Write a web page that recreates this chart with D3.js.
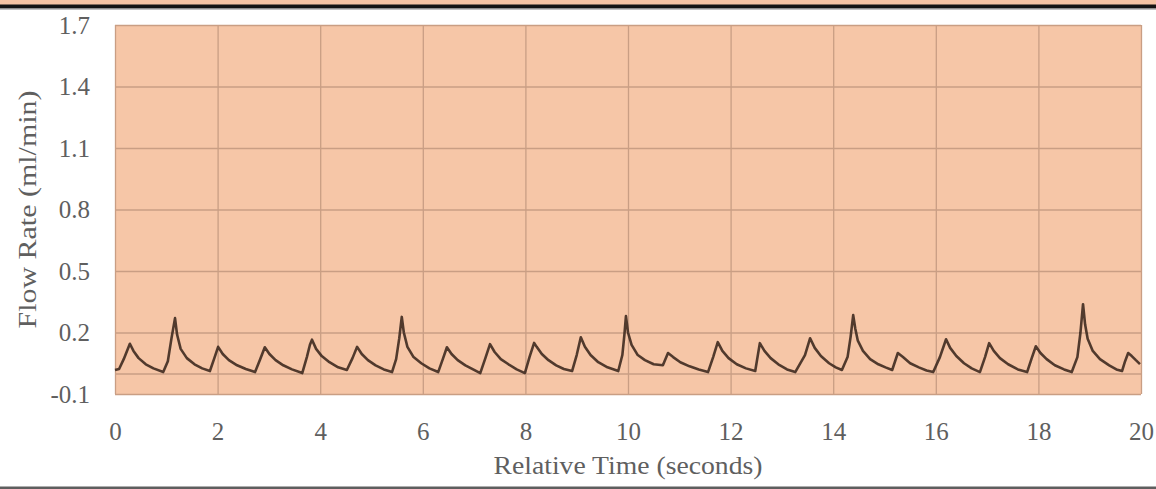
<!DOCTYPE html>
<html>
<head>
<meta charset="utf-8">
<script src="https://cdn.jsdelivr.net/npm/d3@7"></script>
<style>
  html, body { margin: 0; padding: 0; background: #ffffff; }
  svg { display: block; }
  text { font-family: "Liberation Serif", "Times New Roman", serif; }
</style>
</head>
<body>
<svg id="chart" width="1156" height="489"></svg>
<script>
// Flow rate trace (ml/min) against relative time (seconds)
const timeSec = [
  0.00, 0.08, 0.17, 0.29, 0.36, 0.46, 0.60, 0.75, 0.94,
  1.03, 1.10, 1.17, 1.21, 1.28, 1.40, 1.55, 1.70, 1.85,
  1.93, 2.01, 2.10, 2.22, 2.38, 2.55, 2.73,
  2.83, 2.92, 3.01, 3.13, 3.28, 3.45, 3.65,
  3.74, 3.80, 3.84, 3.92, 4.03, 4.18, 4.35, 4.52,
  4.63, 4.72, 4.81, 4.93, 5.08, 5.24, 5.40,
  5.48, 5.54, 5.59, 5.63, 5.70, 5.82, 5.97, 6.13, 6.30,
  6.39, 6.47, 6.56, 6.68, 6.83, 6.98, 7.12,
  7.22, 7.31, 7.40, 7.52, 7.67, 7.83, 7.99,
  8.08, 8.17, 8.22, 8.32, 8.45, 8.60, 8.75, 8.91,
  9.00, 9.08, 9.16, 9.27, 9.42, 9.60, 9.81,
  9.89, 9.93, 9.96, 10.00, 10.07, 10.19, 10.33, 10.50, 10.68,
  10.78, 10.88, 11.02, 11.20, 11.38, 11.56,
  11.66, 11.75, 11.84, 11.96, 12.12, 12.30, 12.48,
  12.57, 12.66, 12.78, 12.93, 13.10, 13.26,
  13.45, 13.55, 13.64, 13.76, 13.92, 14.05, 14.17,
  14.28, 14.34, 14.39, 14.43, 14.48, 14.58, 14.72, 14.88, 15.02, 15.15,
  15.26, 15.36, 15.50, 15.67, 15.82, 15.95,
  16.08, 16.20, 16.28, 16.40, 16.55, 16.70, 16.86,
  16.96, 17.04, 17.13, 17.25, 17.41, 17.60, 17.78,
  17.87, 17.95, 18.04, 18.16, 18.32, 18.50, 18.65,
  18.76, 18.82, 18.87, 18.91, 18.96, 19.06, 19.20, 19.38, 19.52, 19.63,
  19.69, 19.75, 19.82, 19.90, 19.98
];
const flowRate = [
  0.017, 0.022, 0.070, 0.145, 0.110, 0.075, 0.045, 0.025, 0.007,
  0.060, 0.170, 0.270, 0.190, 0.120, 0.075, 0.045, 0.025, 0.012,
  0.070, 0.130, 0.095, 0.065, 0.040, 0.022, 0.007,
  0.070, 0.128, 0.095, 0.065, 0.040, 0.020, 0.002,
  0.080, 0.140, 0.165, 0.120, 0.085, 0.055, 0.030, 0.017,
  0.075, 0.130, 0.095, 0.065, 0.040, 0.020, 0.007,
  0.070, 0.170, 0.276, 0.200, 0.130, 0.080, 0.050, 0.025, 0.007,
  0.070, 0.128, 0.095, 0.065, 0.040, 0.020, 0.002,
  0.075, 0.143, 0.105, 0.070, 0.045, 0.020, 0.002,
  0.080, 0.149, 0.130, 0.095, 0.065, 0.040, 0.022, 0.012,
  0.090, 0.177, 0.130, 0.090, 0.055, 0.030, 0.012,
  0.090, 0.190, 0.280, 0.200, 0.140, 0.090, 0.065, 0.045, 0.040,
  0.100, 0.080, 0.055, 0.035, 0.020, 0.007,
  0.080, 0.153, 0.110, 0.075, 0.045, 0.025, 0.012,
  0.148, 0.110, 0.075, 0.045, 0.020, 0.007,
  0.090, 0.172, 0.125, 0.085, 0.050, 0.030, 0.017,
  0.080, 0.180, 0.285, 0.220, 0.160, 0.110, 0.070, 0.045, 0.030, 0.017,
  0.100, 0.080, 0.050, 0.030, 0.015, 0.007,
  0.080, 0.167, 0.125, 0.085, 0.050, 0.025, 0.007,
  0.080, 0.148, 0.110, 0.075, 0.045, 0.020, 0.007,
  0.075, 0.133, 0.100, 0.070, 0.040, 0.020, 0.007,
  0.080, 0.200, 0.338, 0.240, 0.170, 0.110, 0.070, 0.040, 0.020, 0.012,
  0.060, 0.100, 0.085, 0.065, 0.046
];

const xTickValues = [0, 2, 4, 6, 8, 10, 12, 14, 16, 18, 20];
const yTickValues = [-0.1, 0.2, 0.5, 0.8, 1.1, 1.4, 1.7];
const yTickLabels = ["-0.1", "0.2", "0.5", "0.8", "1.1", "1.4", "1.7"];
const xTitle = "Relative Time (seconds)";
const yTitle = "Flow Rate (ml/min)";

const svg = d3.select("#chart");
const W = 1156, H = 489;
const plot = { left: 115, top: 25, right: 1141, bottom: 394 };

const x = d3.scaleLinear().domain([0, 20]).range([plot.left, plot.right]);
const y = d3.scaleLinear().domain([-0.1, 1.7]).range([plot.bottom, plot.top]);

// Header strip and rule above the panel
svg.append("rect").attr("x", 0).attr("y", 0).attr("width", W).attr("height", 5)
  .attr("fill", "#f5c4a4");
svg.append("rect").attr("x", 0).attr("y", 4.5).attr("width", W).attr("height", 4)
  .attr("fill", "#141414");
svg.append("rect").attr("x", 0).attr("y", 8.5).attr("width", W).attr("height", 1.5)
  .attr("fill", "#9a9a9a").attr("opacity", 0.6);

// Bottom rule
svg.append("rect").attr("x", 0).attr("y", 486.5).attr("width", W).attr("height", 2.5)
  .attr("fill", "#5e5e5e");

// Plot area
svg.append("rect")
  .attr("x", plot.left).attr("y", plot.top)
  .attr("width", plot.right - plot.left).attr("height", plot.bottom - plot.top)
  .attr("fill", "#f6c6a7");

// Gridlines
const gridColor = "#c99e84";
svg.append("g")
  .attr("transform", `translate(0,${plot.bottom})`)
  .call(d3.axisBottom(x).tickValues(xTickValues).tickSize(-(plot.bottom - plot.top)).tickFormat(""))
  .call(g => g.select(".domain").remove())
  .call(g => g.selectAll(".tick line").attr("stroke", gridColor).attr("stroke-width", 1.3));

svg.append("g")
  .attr("transform", `translate(${plot.left},0)`)
  .call(d3.axisLeft(y).tickValues(yTickValues.concat([0])).tickSize(-(plot.right - plot.left)).tickFormat(""))
  .call(g => g.select(".domain").remove())
  .call(g => g.selectAll(".tick line").attr("stroke", gridColor).attr("stroke-width", 1.3));

// Tick labels
const labelColor = "#5f5f5f";
svg.append("g")
  .attr("transform", `translate(0,${plot.bottom})`)
  .call(d3.axisBottom(x).tickValues(xTickValues).tickSize(0).tickPadding(28).tickFormat(d3.format("d")))
  .call(g => g.select(".domain").remove())
  .call(g => g.selectAll(".tick line").remove())
  .call(g => g.selectAll("text")
    .attr("font-family", "Liberation Serif, Times New Roman, serif")
    .attr("font-size", 25).attr("fill", labelColor));

svg.append("g")
  .attr("transform", `translate(${plot.left},0)`)
  .call(d3.axisLeft(y).tickValues(yTickValues).tickSize(0).tickPadding(25)
    .tickFormat((d, i) => yTickLabels[i]))
  .call(g => g.select(".domain").remove())
  .call(g => g.selectAll(".tick line").remove())
  .call(g => g.selectAll("text")
    .attr("font-family", "Liberation Serif, Times New Roman, serif")
    .attr("font-size", 25).attr("fill", labelColor));

// Axis titles
svg.append("text")
  .attr("x", (plot.left + plot.right) / 2).attr("y", 474)
  .attr("text-anchor", "middle").attr("font-size", 26).attr("fill", labelColor)
  .attr("textLength", 269).attr("lengthAdjust", "spacingAndGlyphs")
  .text(xTitle);

svg.append("text")
  .attr("transform", `translate(36,${(plot.top + plot.bottom) / 2}) rotate(-90)`)
  .attr("text-anchor", "middle").attr("font-size", 26).attr("fill", labelColor)
  .attr("textLength", 238).attr("lengthAdjust", "spacingAndGlyphs")
  .text(yTitle);

// Flow trace
const points = timeSec.map((t, i) => [t, flowRate[i]]);
const line = d3.line().x(d => x(d[0])).y(d => y(d[1])).curve(d3.curveLinear);
svg.append("path")
  .datum(points)
  .attr("d", line)
  .attr("fill", "none")
  .attr("stroke", "#3f2a20")
  .attr("stroke-width", 2.6)
  .attr("stroke-linejoin", "round")
  .attr("opacity", 0.9);
</script>
</body>
</html>
